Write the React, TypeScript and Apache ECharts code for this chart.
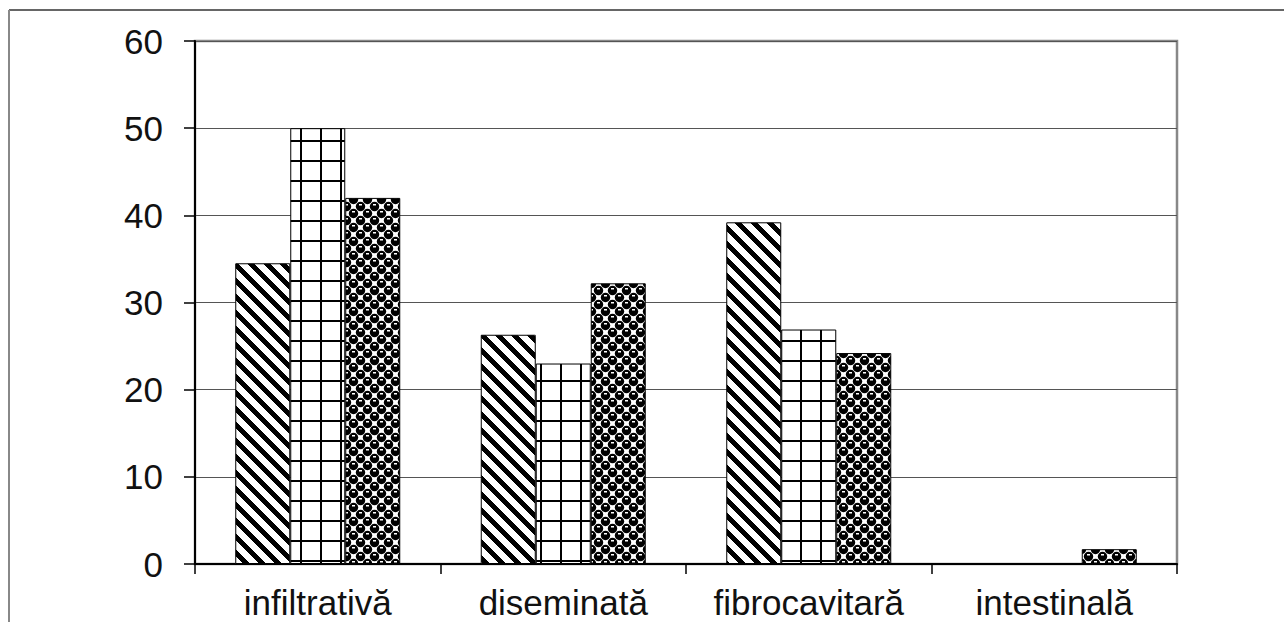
import React, { useEffect, useRef } from "react";
import * as echarts from "echarts";

const categories = ["infiltrativă", "diseminată", "fibrocavitară", "intestinală"];
const seriesA = [34.5, 26.3, 39.2, 0];
const seriesB = [50, 23, 26.9, 0];
const seriesC = [42, 32.2, 24.2, 1.7];
const yTicks = { min: 0, max: 60, interval: 10 };

function makeCanvas(w: number, h: number) {
  const c = document.createElement("canvas");
  c.width = w;
  c.height = h;
  return c;
}

function stripePattern() {
  const s = 16;
  const c = makeCanvas(s, s);
  const ctx = c.getContext("2d")!;
  ctx.fillStyle = "#fff";
  ctx.fillRect(0, 0, s, s);
  ctx.fillStyle = "#000";
  for (let y = 0; y < s; y++) {
    for (let x = 0; x < s; x++) {
      const v = (((x - y) % s) + s) % s;
      if (v < 7) ctx.fillRect(x, y, 1, 1);
    }
  }
  return c;
}

function gridPattern() {
  const s = 20;
  const c = makeCanvas(s, s);
  const ctx = c.getContext("2d")!;
  ctx.fillStyle = "#fff";
  ctx.fillRect(0, 0, s, s);
  ctx.fillStyle = "#000";
  ctx.fillRect(0, 0, 2, s);
  ctx.fillRect(0, 0, s, 2);
  return c;
}

function dotPattern() {
  const s = 14;
  const c = makeCanvas(s, s);
  const ctx = c.getContext("2d")!;
  ctx.fillStyle = "#fff";
  ctx.fillRect(0, 0, s, s);
  ctx.fillStyle = "#000";
  const centers = [
    [3.5, 3.5],
    [10.5, 10.5],
    [-3.5, 10.5],
    [17.5, 3.5],
    [10.5, -3.5],
    [3.5, 17.5],
  ];
  for (const [cx, cy] of centers) {
    ctx.beginPath();
    ctx.arc(cx, cy, 4.7, 0, Math.PI * 2);
    ctx.fill();
  }
  ctx.fillStyle = "#fff";
  ctx.fillRect(2, 1, 3, 1.5);
  ctx.fillRect(9, 8, 3, 1.5);
  return c;
}

export default function App() {
  const ref = useRef<HTMLDivElement>(null);
  useEffect(() => {
    document.body.style.margin = "0";
    if (!ref.current) return;
    const chart = echarts.init(ref.current, undefined, { renderer: "svg" });
    const font = "'Liberation Sans', Arial, sans-serif";
    const border = { borderColor: "#000", borderWidth: 1 };
    chart.setOption({
      animation: false,
      backgroundColor: "#fff",
      grid: {
        left: 195,
        right: 107,
        top: 41,
        bottom: 58,
        show: true,
        borderColor: "#888",
        borderWidth: 2.5,
        backgroundColor: "transparent",
      },
      graphic: [
        { type: "line", shape: { x1: 9, y1: 10, x2: 1284, y2: 10 }, style: { stroke: "#333", lineWidth: 1.5 } },
        { type: "line", shape: { x1: 9, y1: 10, x2: 9, y2: 622 }, style: { stroke: "#888", lineWidth: 2 } },
      ],
      xAxis: {
        type: "category",
        data: categories,
        axisLine: { lineStyle: { color: "#000", width: 2 } },
        axisTick: { show: true, interval: 0, length: 10, lineStyle: { color: "#000", width: 1.5 } },
        axisLabel: { interval: 0, fontSize: 35, fontFamily: font, color: "#111", margin: 21 },
        splitLine: { show: false },
      },
      yAxis: {
        type: "value",
        min: yTicks.min,
        max: yTicks.max,
        interval: yTicks.interval,
        axisLine: { show: true, lineStyle: { color: "#000", width: 2 } },
        axisTick: { show: true, length: 11, lineStyle: { color: "#000", width: 1.5 } },
        axisLabel: { fontSize: 35, fontFamily: font, color: "#111", margin: 32 },
        splitLine: { show: true, lineStyle: { color: "#555", width: 1.2 } },
      },
      series: [
        {
          name: "A",
          type: "bar",
          data: seriesA,
          barWidth: 55,
          barGap: "0%",
          itemStyle: { color: { image: stripePattern(), repeat: "repeat" }, ...border },
        },
        {
          name: "B",
          type: "bar",
          data: seriesB,
          barWidth: 55,
          barGap: "0%",
          itemStyle: { color: { image: gridPattern(), repeat: "repeat" }, ...border },
        },
        {
          name: "C",
          type: "bar",
          data: seriesC,
          barWidth: 55,
          barGap: "0%",
          itemStyle: { color: { image: dotPattern(), repeat: "repeat" }, ...border },
        },
      ],
    });
    return () => chart.dispose();
  }, []);
  return <div ref={ref} style={{ width: 1284, height: 622 }} />;
}
